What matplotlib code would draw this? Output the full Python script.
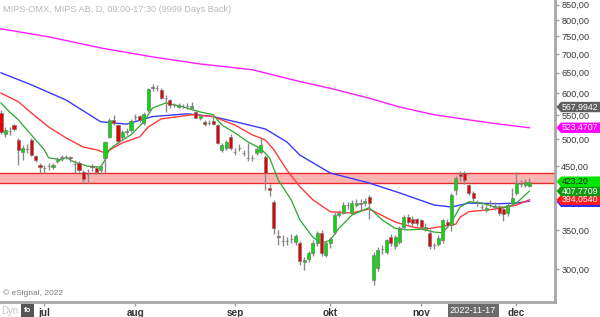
import matplotlib
matplotlib.use("Agg")
import matplotlib.pyplot as plt
import numpy as np
from matplotlib.patches import Polygon, Rectangle
from matplotlib.ticker import FixedLocator, NullLocator, FuncFormatter

plt.rcParams['font.family'] = ['Liberation Sans', 'DejaVu Sans']

# ---------------- data (daily OHLC, Jun 16 - Dec 6 2022, trading-day index) -------------
opens = [555, 511, 517, 529, 499, 476, 482, 499, 468, 452, 447, 450, 449, 459, 465, 467, 466, 454, 456, 440,
         436, 450, 447, 443, 465, 505, 540, 529, 505, 515, 519, 546, 548, 534, 562, 614, 612, 608, 589, 583,
         573, 569, 571, 570, 566, 557, 545, 536, 534, 538, 529, 480, 484, 505, 476, 484, 474, 465, 465, 474,
         476, 466, 413, 390, 342, 335, 335, 337, 334, 332, 308, 312, 319, 332, 346, 317, 332, 347, 371, 374,
         386, 374, 386, 389, 389, 399, 287, 301, 325, 321, 340, 329, 334, 354, 368, 366, 365, 364, 351, 346,
         330, 331, 336, 361, 357, 410, 437, 438, 418, 405, 389, 383, 379, 389, 383, 383, 380, 374, 389, 405,
         419, 418, 416]
highs = [562, 525, 524, 532, 503, 489, 490, 503, 470, 456, 452, 455, 456, 466, 470, 471, 469, 461, 459, 443,
         445, 454, 450, 454, 497, 545, 551, 532, 519, 522, 542, 553, 551, 557, 612, 621, 620, 612, 596, 586,
         578, 577, 575, 576, 580, 560, 553, 540, 540, 551, 532, 493, 499, 510, 484, 490, 480, 493, 470, 486,
         503, 470, 420, 394, 350, 343, 340, 344, 345, 335, 315, 322, 336, 348, 350, 335, 340, 375, 378, 390,
         391, 393, 396, 395, 397, 402, 321, 327, 330, 338, 344, 343, 355, 371, 372, 369, 367, 366, 359, 351,
         333, 343, 366, 365, 405, 433, 441, 442, 420, 408, 393, 388, 386, 393, 390, 386, 383, 389, 412, 440,
         426, 428, 430]
lows = [511, 505, 509, 517, 452, 461, 474, 468, 457, 438, 438, 443, 445, 455, 460, 462, 458, 438, 440, 421,
        421, 442, 436, 437, 438, 502, 530, 490, 499, 509, 515, 540, 536, 530, 558, 605, 606, 586, 557, 566,
        567, 565, 566, 564, 562, 543, 540, 528, 529, 530, 490, 475, 480, 480, 470, 478, 468, 460, 459, 470,
        472, 410, 400, 345, 330, 329, 330, 332, 330, 305, 299, 308, 316, 329, 316, 315, 326, 345, 368, 372,
        380, 372, 383, 378, 384, 365, 282, 298, 318, 318, 328, 325, 331, 350, 358, 356, 356, 351, 348, 324,
        325, 328, 333, 352, 349, 402, 425, 420, 402, 392, 385, 378, 376, 383, 379, 371, 362, 370, 386, 402,
        414, 414, 414]
closes = [515, 519, 516, 521, 480, 484, 482, 470, 461, 448, 446, 451, 452, 463, 466, 467, 465, 453, 443, 428,
          437, 449, 440, 450, 495, 540, 534, 496, 515, 516, 538, 547, 540, 553, 610, 613, 613, 589, 588, 573,
          572, 573, 571, 571, 571, 545, 549, 532, 534, 532, 493, 489, 495, 484, 476, 484, 474, 465, 464, 482,
          489, 438, 410, 352, 340, 335, 335, 338, 342, 309, 311, 319, 332, 346, 319, 332, 338, 371, 374, 386,
          386, 389, 389, 388, 392, 389, 317, 323, 324, 336, 332, 340, 352, 368, 361, 359, 359, 354, 354, 328,
          330, 339, 364, 357, 402, 430, 433, 426, 405, 397, 389, 383, 382, 389, 384, 374, 372, 386, 397, 421,
          420, 423, 423.2]

month_labels = ['jul', 'aug', 'sep', 'okt', 'nov', 'dec']
month_idx = [10, 31, 54, 76, 97, 119]
cursor_label = '2022-11-17'
cursor_idx = 109

# moving averages (index, value)
ma_green_idx = [0, 2, 4, 6, 8, 10, 11, 14, 15, 17, 20, 23, 24, 25, 27, 30, 33, 35, 38, 41, 46, 49, 51, 54,
                57, 60, 62, 64, 67, 69, 72, 74, 76, 78, 81, 85, 88, 91, 94, 97, 100, 102, 104, 106, 108, 111,
                114, 117, 119, 122]
ma_green_val = [577, 557, 540, 519, 499, 480, 465, 461, 466, 457, 450, 448, 461, 480, 493, 509, 536, 566, 577,
                571, 557, 551, 529, 513, 495, 482, 465, 426, 394, 364, 340, 332, 336, 352, 371, 382, 364, 352,
                350, 351, 347, 346, 361, 383, 391, 389, 383, 383, 389, 407.77]
ma_red_idx = [0, 4, 7, 11, 15, 19, 22, 24, 26, 28, 32, 34, 37, 41, 44, 49, 54, 58, 61, 63, 66, 69, 72, 76,
              81, 85, 91, 95, 98, 101, 105, 106, 108, 113, 116, 119, 122]
ma_red_val = [600, 580, 555, 525, 503, 485, 480, 474, 484, 493, 505, 525, 542, 547, 551, 547, 529, 509, 499,
              480, 443, 415, 394, 376, 374, 380, 361, 354, 351, 354, 358, 368, 376, 379, 382, 386, 394.05]
ma_blue_idx = [0, 7, 15, 23, 29, 35, 43, 49, 55, 61, 66, 69, 76, 85, 92, 100, 104, 108, 115, 119, 122]
ma_blue_val = [650, 620, 584, 536, 531, 547, 553, 547, 534, 521, 495, 470, 438, 421, 405, 386, 383, 389, 388,
               389, 392]
ma_mag_idx = [0, 11, 23, 35, 46, 58, 69, 77, 85, 92, 100, 108, 115, 122]
ma_mag_val = [773, 749, 717, 692, 673, 658, 628, 609, 588, 568, 551, 540, 531, 523.47]

zone_low, zone_high = 421, 438
yticks = [300, 350, 450, 500, 550, 600, 650, 700, 750, 800, 850]

tags = [  # value, visible text, face, text colour
    (567.99424, '567,9942', '#5f5f5f', 'white'),
    (523.47075, '523,4707', '#ff00ff', 'white'),
    (391.0, '', '#2a2aff', 'white'),
    (394.05405, '394,0540', '#ff1e1e', 'white'),
    (407.77095, '407,7709', '#119a11', 'white'),
    (423.20, '423,20', '#00e400', '#0a2a0a'),
]

# ---------------- figure ----------------
W, H = 600, 317
fig = plt.figure(figsize=(W / 100, H / 100), dpi=100)
ax_l, ax_b, ax_w, ax_h = 0.0, 15 / H, 555 / W, 302 / H
ax = fig.add_axes([ax_l, ax_b, ax_w, ax_h])
ymin, ymax = 263.4, 866
ax.set_yscale('log')
ax.set_ylim(ymin, ymax)
ax.set_xlim(-0.23, 127.9)

# support / resistance zone
ax.axhspan(zone_low, zone_high, facecolor='#ffb4b4', edgecolor='none', zorder=1)
ax.axhline(zone_high, color='#e52b2b', lw=1.0, zorder=1.5)
ax.axhline(zone_low, color='#e52b2b', lw=1.0, zorder=1.5)

# moving averages
ax.plot(ma_mag_idx, ma_mag_val, color='#ff1cff', lw=1.0, zorder=2)
ax.plot(ma_blue_idx, ma_blue_val, color='#3a3aff', lw=1.0, zorder=2)
ax.plot(ma_red_idx, ma_red_val, color='#ff3a3a', lw=1.0, zorder=2)
ax.plot(ma_green_idx, ma_green_val, color='#2aa82a', lw=0.9, zorder=2)

# candles
idx = np.arange(len(closes))
o = np.array(opens, float)
c = np.array(closes, float)
ax.vlines(idx, lows, highs, color='#8a8a8a', lw=1.0, zorder=3)
cols = np.where(c > o, '#00e000', np.where(c < o, '#e80000', '#8a8a8a'))
hgt = c - o
ax.bar(idx, hgt, bottom=o, width=0.72, color=cols, edgecolor='#7a7a7a', linewidth=0.5, zorder=4)

# axes styling
for s in ['left', 'top']:
    ax.spines[s].set_visible(False)
for s in ['right', 'bottom']:
    ax.spines[s].set_color('#a6a6a6')
    ax.spines[s].set_linewidth(2.0)
ax.yaxis.tick_right()
ax.yaxis.set_major_locator(FixedLocator(yticks))
ax.yaxis.set_minor_locator(NullLocator())
ax.yaxis.set_major_formatter(FuncFormatter(lambda v, p: f"{v:.2f}".replace('.', ',')))
ax.tick_params(axis='y', direction='out', length=3, width=1, color='#9a9a9a',
               labelcolor='#3a3a3a', labelsize=6.6, pad=1.5)
ax.set_xticks(month_idx)
ax.set_xticklabels(month_labels, fontweight='bold')
ax.xaxis.set_minor_locator(NullLocator())
ax.tick_params(axis='x', direction='out', length=3, width=1, color='#9a9a9a',
               labelcolor='#333333', labelsize=7.2, pad=1.5)

# texts
fig.text(3 / W, 1 - 9 / H, 'MIPS-OMX, MIPS AB, D, 09:00-17:30 (9999 Days Back)', fontsize=6.6,
         color='#b9b9b9', va='center', ha='left')
fig.text(3 / W, 1 - 293 / H, '\u00a9 eSignal, 2022', fontsize=6.0, color='#7a7a7a', va='center', ha='left')
fig.text(1 / W, 1 - 311 / H, 'Dyn', fontsize=7.0, color='#c4c4c4', va='center', ha='left')
fig.patches.append(Rectangle((21 / W, 1 - 317 / H), 13 / W, 13 / H, transform=fig.transFigure,
                             facecolor='#555555', edgecolor='none'))
fig.text(27.5 / W, 1 - 311 / H, 'fo', fontsize=5.5, color='white', va='center', ha='center',
         fontweight='bold')

cx = ax_l + ax_w * (cursor_idx + 0.23) / (127.9 + 0.23)
fig.text(cx, 1 - 310.5 / H, cursor_label, fontsize=6.6, color='white', va='center', ha='center',
         bbox=dict(boxstyle='square,pad=0.25', facecolor='#6a6a6a', edgecolor='none'))


def fig_y(v):
    return ax_b + ax_h * (np.log(v) - np.log(ymin)) / (np.log(ymax) - np.log(ymin))


x0 = 556.5 / W
xb = 561 / W
half = 5.2 / H
for v, t, fc, tc in tags:
    fy = fig_y(v)
    poly = Polygon([(x0, fy), (xb, fy + half), (1.05, fy + half), (1.05, fy - half), (xb, fy - half)],
                   closed=True, transform=fig.transFigure, facecolor=fc, edgecolor='none')
    fig.patches.append(poly)
    if t:
        fig.text(xb + 0.5 / W, fy, t, fontsize=6.3, color=tc, va='center', ha='left')

fig.savefig('out.png', dpi=100, facecolor='white')
